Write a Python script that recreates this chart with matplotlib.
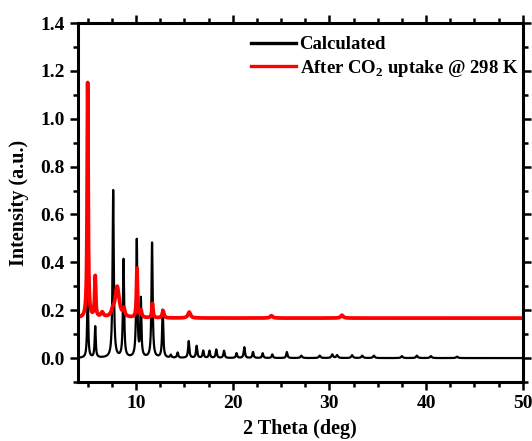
import numpy as np
import matplotlib
matplotlib.use("Agg")
import matplotlib.pyplot as plt
from matplotlib.ticker import MultipleLocator

# ---- data (peak position [deg], peak height, FWHM [deg]) ----
calc_pos = [5.0, 5.78, 7.64, 8.71, 10.08, 10.5, 11.66, 12.76, 13.6, 14.3, 15.45, 16.27,
            16.95, 17.6, 18.3, 19.1, 20.4, 21.2, 22.1, 23.1, 24.1, 25.6, 27.1, 29.0,
            30.3, 30.8, 32.35, 33.4, 34.6, 37.5, 39.05, 40.5, 43.2]
calc_h = [0.28, 0.13, 0.70, 0.41, 0.49, 0.24, 0.48, 0.20, 0.012, 0.022, 0.07, 0.05,
          0.03, 0.03, 0.035, 0.03, 0.02, 0.045, 0.025, 0.02, 0.015, 0.025, 0.01, 0.01,
          0.015, 0.012, 0.012, 0.01, 0.01, 0.008, 0.01, 0.008, 0.006]
calc_w = [0.13, 0.13, 0.15, 0.14, 0.14, 0.13, 0.14, 0.14, 0.15, 0.15, 0.15, 0.15,
          0.15, 0.15, 0.15, 0.15, 0.15, 0.15, 0.15, 0.15, 0.15, 0.15, 0.2, 0.2,
          0.2, 0.2, 0.2, 0.2, 0.2, 0.2, 0.2, 0.2, 0.2]

co2_base = 0.167
co2_pos = [5.0, 5.78, 6.5, 7.6, 8.05, 8.75, 10.1, 10.5, 11.7, 12.8, 15.5, 24.0, 31.3]
co2_h = [0.985, 0.17, 0.02, 0.02, 0.13, 0.03, 0.205, 0.03, 0.06, 0.03, 0.025, 0.01, 0.012]
co2_w = [0.12, 0.13, 0.3, 0.3, 0.5, 0.2, 0.12, 0.2, 0.14, 0.2, 0.3, 0.3, 0.3]

x_min, x_max = 4, 50
labels = ["Calculated", r"After CO$_\mathregular{2}$ uptake @ 298 K"]


def profile(x, pos, h, w, base=0.0):
    y = np.full_like(x, base)
    for p, a, fw in zip(pos, h, w):
        g = fw / 2.0
        y += a / (1.0 + ((x - p) / g) ** 2)
    return y


theta = np.linspace(x_min, x_max, 6001)
y_calc = profile(theta, calc_pos, calc_h, calc_w)
y_co2 = profile(theta, co2_pos, co2_h, co2_w, co2_base)

plt.rcParams["font.family"] = ["Liberation Serif", "DejaVu Serif"]
plt.rcParams["font.weight"] = "bold"
plt.rcParams["mathtext.fontset"] = "custom"
plt.rcParams["mathtext.rm"] = "Liberation Serif:bold"
plt.rcParams["mathtext.bf"] = "Liberation Serif:bold"

fig = plt.figure(figsize=(5.32, 4.41), dpi=100)
ax = fig.add_axes([0.1466, 0.1338, 0.836, 0.814])

ax.plot(theta, y_calc, color="black", lw=1.6, label=labels[0])
ax.plot(theta, y_co2, color="#ff0000", lw=2.7, label=labels[1])

ax.set_xlim(x_min, x_max)
ax.set_ylim(-0.1, 1.4)
ax.xaxis.set_major_locator(MultipleLocator(10))
ax.xaxis.set_minor_locator(MultipleLocator(2.5))
ax.yaxis.set_major_locator(MultipleLocator(0.2))
ax.yaxis.set_minor_locator(MultipleLocator(0.1))

for s in ax.spines.values():
    s.set_linewidth(2.2)
ax.tick_params(which="both", direction="out", top=True, right=True, width=1.8,
               labelsize=14)
ax.tick_params(which="major", length=6)
ax.tick_params(which="minor", length=3.5)
for lab in ax.get_xticklabels() + ax.get_yticklabels():
    lab.set_fontweight("bold")

ax.set_xlabel("2 Theta (deg)", fontsize=14.5, fontweight="bold", labelpad=5)
ax.set_ylabel("Intensity (a.u.)", fontsize=14.5, fontweight="bold", labelpad=8)

leg = ax.legend(loc="upper right", bbox_to_anchor=(0.990, 0.964), frameon=False,
                handlelength=2.4, handletextpad=0.2, labelspacing=0.25,
                borderaxespad=0.0, borderpad=0.0,
                prop={"weight": "bold", "size": 13.5})
for h in leg.get_lines():
    h.set_linewidth(2.4)

fig.savefig("out.png", dpi=100)
